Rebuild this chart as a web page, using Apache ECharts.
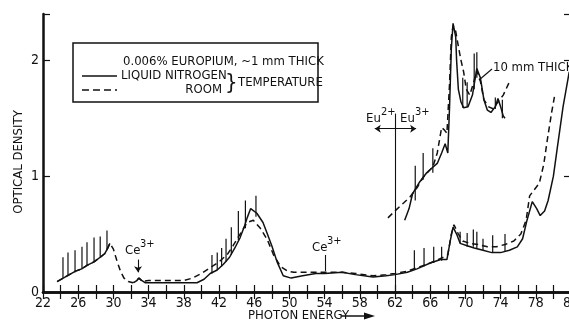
<!DOCTYPE html>
<html>
<head>
<meta charset="utf-8">
<script src="https://cdn.jsdelivr.net/npm/echarts@6/dist/echarts.min.js"></script>
<style>
  html, body { margin: 0; padding: 0; background: #fff; }
  #chart { width: 569px; height: 324px; }
</style>
</head>
<body>
<div id="chart"></div>
<script>
// photon energy (x) vs optical density (y)
const xMin = 22;
const xMax = 82;
const yMax = 2.4;
const yTicks = [0, 1, 2];

// 1 mm, liquid nitrogen temperature (solid)
const lowSolid = [
  [23.6, 0.09], [24.3, 0.12], [25.0, 0.15], [25.7, 0.18], [26.4, 0.2], [27.0, 0.23],
  [27.8, 0.26], [28.5, 0.3], [29.0, 0.33], [29.3, 0.37], [29.6, 0.42],
  null,
  [32.3, 0.08], [32.7, 0.1], [32.9, 0.12], [33.2, 0.1], [33.6, 0.08], [36, 0.08],
  [39.5, 0.08], [40.3, 0.11], [41, 0.16], [41.8, 0.19], [42.5, 0.24], [43.2, 0.3],
  [43.8, 0.38], [44.4, 0.47], [44.9, 0.57], [45.2, 0.64], [45.6, 0.72], [46.3, 0.68],
  [47, 0.6], [47.5, 0.5], [48, 0.4], [48.6, 0.26], [49.3, 0.14], [50.2, 0.12],
  [51.5, 0.14], [53, 0.16], [54, 0.16], [56, 0.17], [57.5, 0.15], [59.5, 0.13],
  [61, 0.14], [62, 0.15], [63.4, 0.17], [64.5, 0.2], [66, 0.25], [67.2, 0.28],
  [67.9, 0.28], [68.3, 0.45], [68.6, 0.56], [69, 0.5], [69.4, 0.42], [70.2, 0.4],
  [71, 0.38], [72, 0.36], [73, 0.34], [74, 0.34], [75, 0.36], [75.9, 0.39],
  [76.5, 0.46], [77, 0.62], [77.6, 0.78], [78.1, 0.72], [78.5, 0.66], [79, 0.7],
  [79.4, 0.79], [80, 1.0], [80.4, 1.22], [81.1, 1.6], [81.8, 1.9]
];

// 1 mm, room temperature (dashed)
const lowDashed = [
  [23.6, 0.09], [24.3, 0.12], [25.0, 0.15], [25.7, 0.18], [26.4, 0.2], [27.0, 0.23],
  [27.8, 0.26], [28.5, 0.3], [29.0, 0.33], [29.3, 0.37], [29.6, 0.42], [30.0, 0.37],
  [30.4, 0.27], [30.8, 0.18], [31.2, 0.12], [31.7, 0.09], [32.2, 0.08], [32.6, 0.1],
  [32.9, 0.12], [33.3, 0.09], [34, 0.1], [36, 0.1], [38, 0.1], [39, 0.12], [40, 0.16],
  [41, 0.21], [42, 0.26], [43, 0.33], [43.6, 0.4], [44.4, 0.5], [45.2, 0.6],
  [45.9, 0.62], [46.7, 0.55], [47.5, 0.45], [48.2, 0.32], [49, 0.22], [49.8, 0.18],
  [50.5, 0.17], [52, 0.17], [54, 0.17], [56, 0.17], [57.5, 0.16], [59.5, 0.14],
  [61, 0.15], [62, 0.16], [63.4, 0.18], [64.5, 0.21], [66, 0.25], [67.5, 0.3],
  [68, 0.32], [68.4, 0.5], [68.7, 0.58], [69.2, 0.5], [69.7, 0.44], [70.5, 0.42],
  [71.5, 0.41], [72.5, 0.39], [73.5, 0.39], [74.5, 0.41], [75.5, 0.44], [76.3, 0.5],
  [76.9, 0.62], [77.3, 0.83], [77.8, 0.88], [78.4, 0.94], [78.9, 1.1], [79.3, 1.31],
  [79.8, 1.55], [80.2, 1.72]
];

// 10 mm, liquid nitrogen (solid)
const thickSolid = [
  [63.1, 0.62], [63.6, 0.72], [64, 0.85], [64.8, 0.95], [65.6, 1.03], [66.2, 1.07],
  [66.8, 1.11], [67.3, 1.2], [67.7, 1.28], [68.0, 1.2], [68.2, 1.6], [68.4, 2.1],
  [68.6, 2.32], [68.9, 2.2], [69.0, 2.0], [69.2, 1.75], [69.5, 1.64], [69.8, 1.59],
  [70.3, 1.6], [70.8, 1.7], [71.3, 1.93], [71.7, 1.85], [72.1, 1.66], [72.5, 1.57],
  [72.9, 1.55], [73.4, 1.6], [73.7, 1.67], [74.0, 1.6], [74.3, 1.52], [74.5, 1.5]
];

// 10 mm, room temperature (dashed)
const thickDashed = [
  [61.2, 0.64], [62, 0.7], [63, 0.77], [63.7, 0.82], [64.5, 0.9], [65.2, 0.99],
  [65.8, 1.04], [66.3, 1.08], [66.8, 1.2], [67.3, 1.42], [67.6, 1.4], [67.9, 1.37],
  [68.2, 1.8], [68.4, 2.2], [68.6, 2.3], [68.9, 2.25], [69.2, 2.12], [69.5, 2.0],
  [69.8, 1.9], [70.1, 1.75], [70.5, 1.7], [70.9, 1.8], [71.3, 1.91], [71.7, 1.82],
  [72.1, 1.66], [72.6, 1.6], [73.2, 1.58], [73.6, 1.63], [74.3, 1.7], [75.1, 1.83]
];

// vertical line marks: [energy, from, to]
const spikes = [
  [24.27, 0.12, 0.30], [24.84, 0.14, 0.34], [25.64, 0.17, 0.36], [26.43, 0.2, 0.39],
  [27.0, 0.23, 0.43], [27.8, 0.26, 0.47], [28.5, 0.3, 0.48], [29.27, 0.36, 0.53],
  [41.2, 0.16, 0.32], [41.8, 0.19, 0.34], [42.3, 0.22, 0.38], [42.8, 0.26, 0.46],
  [43.4, 0.32, 0.56], [44.2, 0.45, 0.7], [45.0, 0.55, 0.79], [46.2, 0.65, 0.83],
  [64.2, 0.19, 0.36], [65.3, 0.22, 0.38], [66.4, 0.25, 0.39], [67.3, 0.27, 0.39],
  [69.4, 0.42, 0.52], [70.2, 0.39, 0.51], [70.9, 0.39, 0.54], [71.3, 0.38, 0.52],
  [72.0, 0.36, 0.46], [73.1, 0.34, 0.49], [74.5, 0.35, 0.5],
  [64.3, 0.79, 1.09], [65.2, 0.97, 1.2], [66.3, 1.03, 1.24],
  [69.7, 1.59, 1.85], [70.2, 1.6, 1.81], [71.0, 1.75, 2.06], [71.3, 1.85, 2.07],
  [73.4, 1.58, 1.68], [74.2, 1.5, 1.66]
];

// annotation lines in data units
const ceArrow1 = [32.8, 0.28, 0.17];
const ceLine2 = [54.1, 0.32, 0.18];
const euDivide = [62, 0, 1.54];
const euArrow = [59.7, 64.4, 1.41];

const FONT = "'Liberation Sans Narrow', 'DejaVu Sans Condensed', 'Arial Narrow', sans-serif";
const INK = '#111';

const chart = echarts.init(document.getElementById('chart'), null, { renderer: 'canvas' });

function spikeItem(params, api) {
  const a = api.coord([api.value(0), api.value(1)]);
  const b = api.coord([api.value(0), api.value(2)]);
  return {
    type: 'line',
    shape: { x1: a[0], y1: a[1], x2: b[0], y2: b[1] },
    style: { stroke: INK, lineWidth: 1.2 }
  };
}

const lineBase = {
  type: 'line',
  showSymbol: false,
  symbol: 'none',
  connectNulls: false,
  animation: false,
  silent: true
};

const axisCommon = {
  type: 'value',
  min: xMin,
  max: xMax,
  interval: 2,
  splitLine: { show: false },
  axisLine: { lineStyle: { color: INK, width: 2.5 } },
  axisTick: { inside: true, length: 7, lineStyle: { color: INK, width: 1.2 } }
};

const sup = (x, y, base, exp) => [
  { type: 'text', x: x, y: y, style: { text: base, font: '13px ' + FONT, fill: INK, textVerticalAlign: 'middle' } },
  { type: 'text', x: x + 15, y: y - 7, style: { text: exp, font: '11px ' + FONT, fill: INK, textVerticalAlign: 'middle' } }
];

chart.setOption({
  backgroundColor: '#fff',
  animation: false,
  grid: { left: 43, right: -2, top: 14, bottom: 32, outerBoundsMode: 'none', containLabel: false },
  xAxis: [
    Object.assign({}, axisCommon, {
      position: 'bottom',
      axisLabel: {
        color: INK, fontFamily: FONT, fontSize: 14, margin: 4,
        formatter: (v) => ((v - xMin) % 4 === 0 ? String(v) : '')
      }
    }),
    Object.assign({}, axisCommon, { position: 'top', axisLabel: { show: false } })
  ],
  yAxis: [
    {
      type: 'value', min: 0, max: yMax, interval: 1,
      splitLine: { show: false },
      axisLine: { lineStyle: { color: INK, width: 2.5 } },
      axisTick: { inside: true, length: 7, lineStyle: { color: INK, width: 1.2 } },
      axisLabel: {
        color: INK, fontFamily: FONT, fontSize: 14, margin: 4,
        formatter: (v) => (yTicks.includes(v) ? String(v) : '')
      }
    },
    {
      type: 'value', min: 0, max: yMax, interval: 1, position: 'right',
      splitLine: { show: false },
      axisLine: { lineStyle: { color: INK, width: 2.5 } },
      axisTick: { inside: true, length: 7, lineStyle: { color: INK, width: 1.2 } },
      axisLabel: { show: false }
    }
  ],
  series: [
    Object.assign({}, lineBase, {
      name: 'room 1 mm', data: lowDashed,
      lineStyle: { color: INK, width: 1.5, type: [6, 4] }
    }),
    Object.assign({}, lineBase, {
      name: 'nitrogen 1 mm', data: lowSolid,
      lineStyle: { color: INK, width: 1.5 },
      markLine: {
        silent: true, animation: false,
        label: { show: false },
        lineStyle: { color: INK, width: 1.1, type: 'solid' },
        symbolSize: 6,
        data: [
          [{ coord: [ceArrow1[0], ceArrow1[1]], symbol: 'none' }, { coord: [ceArrow1[0], ceArrow1[2]], symbol: 'arrow' }],
          [{ coord: [ceLine2[0], ceLine2[1]], symbol: 'none' }, { coord: [ceLine2[0], ceLine2[2]], symbol: 'none' }],
          [{ coord: [euDivide[0], euDivide[1]], symbol: 'none' }, { coord: [euDivide[0], euDivide[2]], symbol: 'none' }],
          [{ coord: [euArrow[0], euArrow[2]], symbol: 'arrow' }, { coord: [euArrow[1], euArrow[2]], symbol: 'arrow' }]
        ]
      }
    }),
    Object.assign({}, lineBase, {
      name: 'room 10 mm', data: thickDashed,
      lineStyle: { color: INK, width: 1.5, type: [6, 4] }
    }),
    Object.assign({}, lineBase, {
      name: 'nitrogen 10 mm', data: thickSolid,
      lineStyle: { color: INK, width: 1.5 }
    }),
    {
      type: 'custom', name: 'lines', data: spikes, renderItem: spikeItem,
      encode: { x: 0, y: [1, 2] }, silent: true, animation: false
    }
  ],
  graphic: [
    // y axis title
    { type: 'text', x: 19, y: 162, rotation: Math.PI / 2, style: { text: 'OPTICAL DENSITY', font: '13px ' + FONT, fill: INK, textAlign: 'center', textVerticalAlign: 'middle' } },
    // legend box
    { type: 'rect', shape: { x: 73, y: 43, width: 245, height: 59 }, style: { fill: '#fff', stroke: INK, lineWidth: 1.5 }, z: 10 },
    { type: 'text', x: 123, y: 62, z: 11, style: { text: '0.006% EUROPIUM, ~1 mm THICK', font: '13px ' + FONT, fill: INK, textVerticalAlign: 'middle' } },
    { type: 'line', z: 11, shape: { x1: 82, y1: 76, x2: 117, y2: 76 }, style: { stroke: INK, lineWidth: 1.5 } },
    { type: 'line', z: 11, shape: { x1: 82, y1: 90, x2: 117, y2: 90 }, style: { stroke: INK, lineWidth: 1.5, lineDash: [7, 4] } },
    { type: 'text', x: 121, y: 76, z: 11, style: { text: 'LIQUID NITROGEN', font: '13px ' + FONT, fill: INK, textVerticalAlign: 'middle' } },
    { type: 'text', x: 222, y: 90, z: 11, style: { text: 'ROOM', font: '13px ' + FONT, fill: INK, textAlign: 'right', textVerticalAlign: 'middle' } },
    { type: 'text', x: 225, y: 83, z: 11, style: { text: '}', font: '22px ' + FONT, fill: INK, textVerticalAlign: 'middle' } },
    { type: 'text', x: 238, y: 83, z: 11, style: { text: 'TEMPERATURE', font: '13px ' + FONT, fill: INK, textVerticalAlign: 'middle' } },
    // annotations
    ...sup(125, 251, 'Ce', '3+'),
    ...sup(312, 248, 'Ce', '3+'),
    ...sup(366, 119, 'Eu', '2+'),
    ...sup(400, 119, 'Eu', '3+'),
    { type: 'text', x: 493, y: 68, style: { text: '10 mm THICK', font: '13px ' + FONT, fill: INK, textVerticalAlign: 'middle' } },
    { type: 'line', shape: { x1: 492, y1: 69, x2: 479, y2: 80 }, style: { stroke: INK, lineWidth: 1.1 } },
    // x axis title with arrow
    { type: 'text', x: 248, y: 316, style: { text: 'PHOTON ENERGY', font: '13px ' + FONT, fill: INK, textVerticalAlign: 'middle' } },
    { type: 'line', shape: { x1: 341, y1: 316, x2: 368, y2: 316 }, style: { stroke: INK, lineWidth: 1.5 } },
    { type: 'polygon', shape: { points: [[375, 316], [364, 312.5], [364, 319.5]] }, style: { fill: INK } }
  ]
});
</script>
</body>
</html>
